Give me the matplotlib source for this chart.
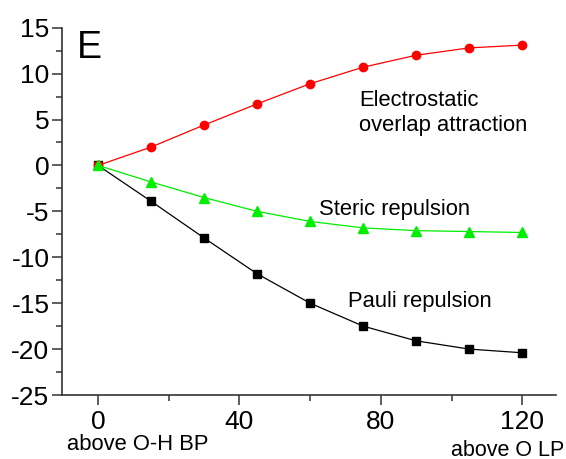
import numpy as np
import matplotlib
matplotlib.use("Agg")
import matplotlib.pyplot as plt
from matplotlib.ticker import MultipleLocator

plt.rcParams['font.family'] = ['Liberation Sans', 'DejaVu Sans']
plt.rcParams['axes.unicode_minus'] = False

angle = [0, 15, 30, 45, 60, 75, 90, 105, 120]
electrostatic = [0, 2.0, 4.4, 6.7, 8.9, 10.7, 12.0, 12.8, 13.1]
steric = [0, -1.8, -3.5, -5.0, -6.1, -6.8, -7.1, -7.2, -7.3]
pauli = [0, -3.9, -7.9, -11.8, -15.0, -17.5, -19.1, -20.0, -20.4]

fig = plt.figure(figsize=(5.66, 4.59), dpi=100)
ax = fig.add_axes([0.1095, 0.1394, 0.8725, 0.8003])

ax.plot(angle, pauli, color='black', lw=0.9, marker='s', ms=5.5)
ax.plot(angle, electrostatic, color='red', lw=0.9, marker='o', ms=6)
ax.plot(angle, steric, color='#00ee00', lw=0.9, marker='^', ms=7)

ax.set_xlim(-10.2, 129.5)
ax.set_ylim(-25, 15)
ax.xaxis.set_major_locator(MultipleLocator(40))
ax.xaxis.set_minor_locator(MultipleLocator(20))
ax.yaxis.set_major_locator(MultipleLocator(5))
ax.yaxis.set_minor_locator(MultipleLocator(2.5))

for s in ['top', 'right']:
    ax.spines[s].set_visible(False)
for s in ['left', 'bottom']:
    ax.spines[s].set_linewidth(1.2)
    ax.spines[s].set_color('#333333')

ax.tick_params(which='major', direction='out', length=7, width=1.1, labelsize=19, colors='#333333', labelcolor='black')
ax.tick_params(which='minor', direction='out', length=4, width=1.1, colors='#333333')
ax.tick_params(axis='x', pad=4)
ax.tick_params(axis='y', pad=2)

# panel letter and curve labels
fig.text(77 / 566, 1 - 48 / 459, 'E', fontsize=27, va='center', ha='left')
fig.text(359 / 566, 1 - 100 / 459, 'Electrostatic', fontsize=15.8, va='center', ha='left')
fig.text(359 / 566, 1 - 126 / 459, 'overlap attraction', fontsize=15.8, va='center', ha='left')
fig.text(319 / 566, 1 - 209 / 459, 'Steric repulsion', fontsize=15.8, va='center', ha='left')
fig.text(348 / 566, 1 - 302 / 459, 'Pauli repulsion', fontsize=15.8, va='center', ha='left')

fig.text(67 / 566, 1 - 445 / 459, 'above O-H BP', fontsize=15.8, va='center', ha='left')
fig.text(564 / 566, 1 - 450 / 459, 'above O LP', fontsize=15.5, va='center', ha='right')

fig.savefig('out.png', dpi=100)
